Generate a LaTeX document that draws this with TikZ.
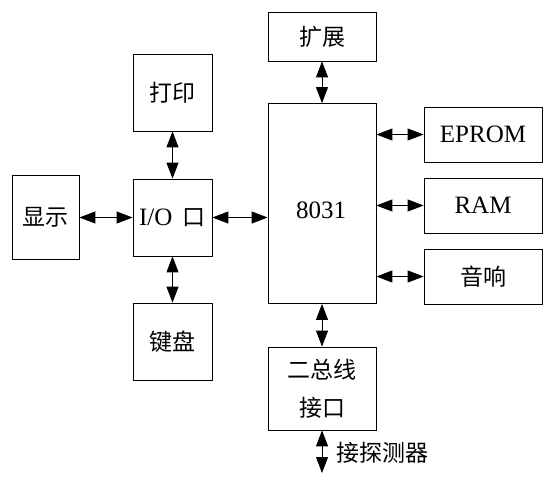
\documentclass[tikz,border=0pt]{standalone}
\usepackage{fontspec}
\setmainfont{Liberation Serif}
\newfontfamily\cjk{Noto Sans CJK SC}
\usetikzlibrary{arrows.meta}

\begin{document}
\begin{tikzpicture}[
		x=1pt, y=-1pt
		,every node/.append style={font=\fontsize{25}{38}\selectfont, inner sep=0pt}
		,box/.style={draw, line width=0.8pt, align=center}
		,zh/.style={font=\fontsize{23}{38}\selectfont\cjk}
		,link/.style={line width=0.9pt, {Triangle[length=16pt, width=12pt]}-{Triangle[length=16pt, width=12pt]}}
	]
		\useasboundingbox (0,0) rectangle (553,479);
		% left column
		\node [box, zh, minimum width=67pt, minimum height=84pt] (disp) at (45.5,217) {显示};
		\node [box, minimum width=79pt, minimum height=77pt] (io) at (172.5,217.5) {I/O\, {\fontsize{23}{38}\selectfont\cjk 口}};
		\node [box, zh, minimum width=79pt, minimum height=77pt] (prn) at (172.5,92.5) {打印};
		\node [box, zh, minimum width=79pt, minimum height=77pt] (kbd) at (172.5,341.5) {键盘};
		% middle column
		\node [box, minimum width=108pt, minimum height=200pt] (cpu) at (322,203.5) {};
		\node (cpulbl) at (321,210.5) {8031};
		\node [box, zh, minimum width=108pt, minimum height=49pt] (ext) at (322,36.5) {扩展};
		\node [box, zh, minimum width=108pt, minimum height=83pt] (bus) at (322,388.5) {二总线\\接口};
		% right column
		\node [box, minimum width=118pt, minimum height=55pt] (eprom) at (483,134.5) {EPROM};
		\node [box, minimum width=118pt, minimum height=55pt] (ram) at (483,205.5) {RAM};
		\node [box, zh, minimum width=118pt, minimum height=55pt] (snd) at (483,276.5) {音响};
		\coordinate (probe) at (322,473);
		\node [zh, anchor=west] (plbl) at (336,453) {接探测器};

		\draw [link] (disp.east |- io) -- (io.west);
		\draw [link] (io.east) -- (cpu.west |- io);
		\draw [link] (prn) -- (io);
		\draw [link] (io) -- (kbd);
		\draw [link] (ext) -- (cpu);
		\draw [link] (cpu) -- (bus);
		\draw [link] (bus.south) -- (probe);
		\foreach \dev in {eprom, ram, snd}
			\draw [link] (cpu.east |- \dev) -- (\dev.west);
	\end{tikzpicture}
\end{document}
